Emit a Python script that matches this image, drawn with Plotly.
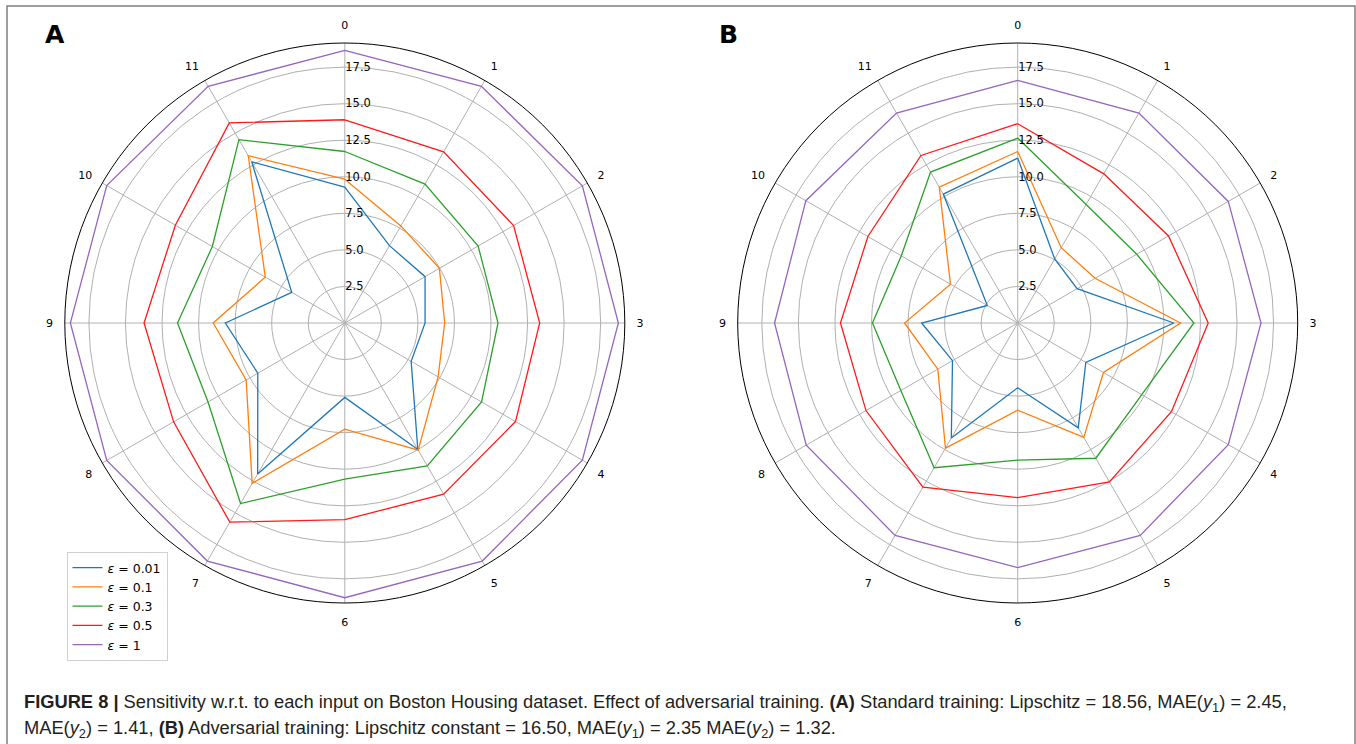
import plotly.graph_objects as go

categories = [str(i) for i in range(12)]
eps_labels = ["0.01", "0.1", "0.3", "0.5", "1"]
colors = ["#1f77b4", "#ff7f0e", "#2ca02c", "#ff1a1a", "#9467bd"]

# Panel A: standard training
blue_A = [9.29, 6.11, 6.34, 5.49, 5.24, 9.99, 5.09, 11.92, 6.87, 8.17, 4.19, 12.73]
orange_A = [9.84, 7.67, 7.47, 6.83, 7.37, 10.04, 7.26, 12.67, 7.79, 9.0, 6.28, 13.21]
green_A = [11.73, 10.97, 10.53, 10.48, 10.8, 11.28, 10.68, 14.26, 10.8, 11.44, 10.46, 14.48]
red_A = [13.9, 13.52, 13.33, 13.33, 13.48, 13.52, 13.45, 15.73, 13.52, 13.73, 13.38, 15.8]
purple_A = [18.65, 18.69, 18.76, 18.71, 18.76, 18.8, 18.79, 18.8, 18.8, 18.77, 18.8, 18.69]

# Panel B: adversarial training
blue_B = [11.28, 5.06, 4.69, 10.68, 5.38, 8.28, 4.43, 9.08, 5.15, 6.57, 2.4, 10.18]
orange_B = [11.73, 5.95, 6.11, 11.14, 6.77, 9.04, 5.96, 9.88, 6.31, 7.74, 5.31, 10.73]
green_B = [12.65, 9.36, 9.4, 12.05, 9.8, 10.68, 9.38, 11.43, 9.23, 9.93, 9.19, 11.92]
red_B = [13.63, 11.78, 11.91, 13.03, 12.14, 12.55, 11.94, 12.97, 11.98, 12.12, 11.83, 13.23]
purple_B = [16.6, 16.58, 16.63, 16.64, 16.63, 16.77, 16.73, 16.77, 16.7, 16.63, 16.73, 16.58]

radial_ticks = [2.5, 5.0, 7.5, 10.0, 12.5, 15.0, 17.5]
r_max = 19.15

series_A = [blue_A, orange_A, green_A, red_A, purple_A]
series_B = [blue_B, orange_B, green_B, red_B, purple_B]

fig = go.Figure()

def closed(vals):
    return list(vals) + [vals[0]]

theta_closed = categories + [categories[0]]

for vals, col, lab in zip(series_A, colors, eps_labels):
    fig.add_trace(go.Scatterpolar(
        r=closed(vals), theta=theta_closed, mode="lines",
        line=dict(color=col, width=1.3),
        name="<i>ε</i> = " + lab, subplot="polar", showlegend=True))

for vals, col, lab in zip(series_B, colors, eps_labels):
    fig.add_trace(go.Scatterpolar(
        r=closed(vals), theta=theta_closed, mode="lines",
        line=dict(color=col, width=1.3),
        name="<i>ε</i> = " + lab, subplot="polar2", showlegend=False))

ang_font = dict(family="DejaVu Sans", size=11, color="black")
rad_font = dict(family="DejaVu Sans", size=11.5, color="black")
W, H = 1356, 744

def polar_layout(x0, x1):
    return dict(
        domain=dict(x=[x0 / W, x1 / W], y=[1 - 603 / H, 1 - 43 / H]),
        bgcolor="white",
        angularaxis=dict(
            type="category", categoryarray=categories,
            rotation=90, direction="clockwise",
            showline=True, linecolor="black", linewidth=1,
            showgrid=True, gridcolor="#b0b0b0", gridwidth=0.8,
            ticks="outside", ticklen=9, tickcolor="rgba(0,0,0,0)",
            tickfont=ang_font,
        ),
        radialaxis=dict(
            range=[0, r_max], angle=90, side="clockwise",
            tickvals=radial_ticks, ticktext=[f"{v:.1f}" for v in radial_ticks],
            showline=False, ticks="",
            showgrid=True, gridcolor="#b0b0b0", gridwidth=0.8,
            tickfont=rad_font, tickangle=90,
        ),
    )

fig.update_layout(
    width=W, height=H,
    margin=dict(l=0, r=0, t=0, b=0),
    paper_bgcolor="white",
    plot_bgcolor="white",
    template="none",
    polar=polar_layout(64.8, 624.8),
    polar2=polar_layout(737.7, 1297.7),
    legend=dict(
        x=66.5 / W, y=1 - 552 / H, xanchor="left", yanchor="top",
        bgcolor="white", bordercolor="#d0d0d0", borderwidth=1,
        font=dict(family="DejaVu Sans", size=12.5, color="black"),
        tracegroupgap=0, itemwidth=30,
    ),
    showlegend=True,
)

# outer frame
fig.add_shape(type="rect", xref="paper", yref="paper",
              x0=7 / W, x1=1355 / W, y0=-0.05, y1=1 - 6 / H,
              line=dict(color="#7f7f7f", width=1.5), fillcolor="rgba(0,0,0,0)")

# panel letters
letter_font = dict(family="DejaVu Sans", size=25, color="black")
fig.add_annotation(text="<b>A</b>", xref="paper", yref="paper",
                   x=55 / W, y=1 - 35 / H, xanchor="center", yanchor="middle",
                   showarrow=False, font=letter_font)
fig.add_annotation(text="<b>B</b>", xref="paper", yref="paper",
                   x=728 / W, y=1 - 35 / H, xanchor="center", yanchor="middle",
                   showarrow=False, font=letter_font)

cap_font = dict(family="Liberation Sans", size=18.3, color="#231f20")
line1 = ("<b>FIGURE 8 |</b> Sensitivity w.r.t. to each input on Boston Housing dataset. "
         "Effect of adversarial training. <b>(A)</b> Standard training: Lipschitz = 18.56, "
         "MAE(<i>y</i><sub>1</sub>) = 2.45,")
line2 = ("MAE(<i>y</i><sub>2</sub>) = 1.41, <b>(B)</b> Adversarial training: Lipschitz constant = 16.50, "
         "MAE(<i>y</i><sub>1</sub>) = 2.35 MAE(<i>y</i><sub>2</sub>) = 1.32.")
fig.add_annotation(text=line1, xref="paper", yref="paper", x=22 / W, y=1 - 703 / H,
                   xanchor="left", yanchor="middle", showarrow=False, align="left", font=cap_font)
fig.add_annotation(text=line2, xref="paper", yref="paper", x=22 / W, y=1 - 729 / H,
                   xanchor="left", yanchor="middle", showarrow=False, align="left", font=cap_font)

fig.write_html(
    "out.html",
    config={"displayModeBar": False},
    post_script="document.body.style.margin='0';document.documentElement.style.overflow='hidden';",
)
